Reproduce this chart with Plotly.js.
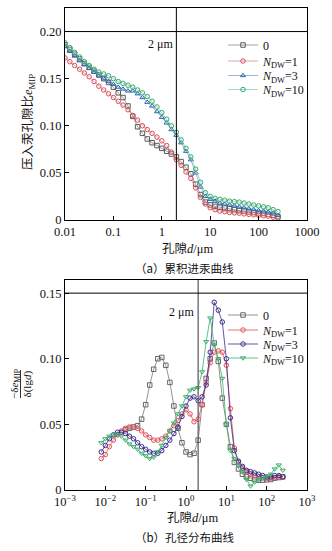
<!DOCTYPE html>
<html><head><meta charset="utf-8">
<script src="https://cdn.plot.ly/plotly-3.0.1.min.js"></script>
<style>html,body{margin:0;padding:0;background:#fff;}#c{width:332px;height:551px;}</style>
</head><body><div id="c"></div>
<script>
// ---- Chart (a): cumulative intrusion ----
const dA = [0.01,0.0126,0.0158,0.02,0.0251,0.0316,0.0398,0.0501,0.0631,0.0794,
  0.1,0.126,0.158,0.2,0.251,0.316,0.398,0.501,0.631,0.794,
  1,1.26,1.58,2,2.51,3.16,3.98,5.01,6.31,7.94,
  10,12.6,15.8,20,25.1,31.6,39.8,50.1,63.1,79.4,
  100,126,158,200,251];
const a0 = [0.186,0.181,0.176,0.171,0.166,0.162,0.158,0.154,0.150,0.146,
  0.141,0.135,0.130,0.121,0.110,0.099,0.092,0.086,0.082,0.079,
  0.076,0.073,0.070,0.067,0.062,0.056,0.049,0.038,0.027,0.019,
  0.016,0.0145,0.0135,0.0127,0.012,0.011,0.010,0.0095,0.0085,0.008,
  0.0075,0.007,0.006,0.005,0.0035];
const a1 = [0.172,0.168,0.164,0.160,0.156,0.152,0.147,0.142,0.138,0.134,
  0.130,0.126,0.122,0.117,0.111,0.106,0.100,0.096,0.092,0.088,
  0.084,0.079,0.072,0.064,0.058,0.051,0.044,0.034,0.024,0.017,
  0.013,0.011,0.0095,0.0088,0.008,0.0075,0.0072,0.0065,0.006,0.0055,
  0.005,0.0045,0.004,0.003,0.002];
const a3 = [0.184,0.179,0.174,0.169,0.165,0.161,0.157,0.153,0.150,0.147,
  0.144,0.141,0.139,0.137,0.137,0.134,0.130,0.125,0.121,0.115,
  0.109,0.103,0.096,0.090,0.082,0.073,0.064,0.050,0.035,0.025,
  0.022,0.020,0.018,0.017,0.016,0.015,0.014,0.013,0.012,0.011,
  0.010,0.0095,0.0085,0.0075,0.005];
const a10 = [0.188,0.183,0.178,0.173,0.168,0.164,0.160,0.157,0.155,0.153,
  0.150,0.147,0.145,0.143,0.141,0.138,0.135,0.131,0.126,0.120,
  0.114,0.107,0.100,0.093,0.085,0.076,0.067,0.054,0.040,0.029,
  0.025,0.023,0.022,0.021,0.020,0.0195,0.019,0.018,0.017,0.016,
  0.015,0.014,0.013,0.011,0.009];

// ---- Chart (b): pore size distribution ----
const dB = [0.00794,0.01,0.0126,0.0158,0.02,0.0251,0.0316,0.0398,0.0501,0.0631,
  0.0794,0.1,0.126,0.158,0.2,0.251,0.316,0.398,0.501,0.631,
  0.794,1,1.26,1.58,2,2.51,3.16,3.98,5.01,6.31,
  7.94,10,12.6,15.8,20,25.1,31.6,39.8,50.1,63.1,
  79.4,100,126,158,200,251];
const b0 = [null,null,null,null,null,null,0.046,0.047,0.048,0.049,
  0.054,0.065,0.080,0.092,0.100,0.101,0.095,0.082,0.064,0.047,
  0.036,0.029,0.027,0.028,0.038,0.065,0.085,0.100,0.112,0.098,
  0.070,0.050,0.033,0.021,0.016,0.012,0.010,0.009,0.008,0.0075,
  0.0075,0.0078,0.008,0.009,0.0095,0.010];
const b1 = [0.024,0.027,0.033,0.038,0.042,0.045,0.047,0.048,0.048,0.047,
  0.045,0.042,0.040,0.038,0.038,0.039,0.041,0.045,0.049,0.053,
  0.058,0.061,0.058,0.052,0.054,0.065,0.082,0.097,0.105,0.106,
  0.105,0.095,0.062,0.032,0.021,0.017,0.014,0.012,0.011,0.010,
  0.0095,0.009,0.009,0.0095,0.010,0.010];
const b3 = [0.029,0.034,0.039,0.042,0.044,0.044,0.043,0.041,0.039,0.036,
  0.033,0.031,0.029,0.028,0.028,0.030,0.034,0.038,0.043,0.048,
  0.056,0.064,0.070,0.071,0.068,0.071,0.080,0.105,0.143,0.137,
  0.128,0.100,0.055,0.030,0.022,0.018,0.015,0.014,0.013,0.012,
  0.011,0.010,0.010,0.011,0.011,0.010];
const b10 = [0.036,0.039,0.041,0.042,0.042,0.041,0.038,0.035,0.033,0.031,
  0.028,0.026,0.024,0.025,0.029,0.034,0.040,0.045,0.051,0.058,
  0.064,0.071,0.076,0.077,0.078,0.090,0.113,0.131,0.111,0.100,
  0.085,0.050,0.030,0.024,0.019,0.014,0.008,0.003,0.006,0.008,
  0.009,0.010,0.012,0.016,0.019,0.015];

const namesLeg = ['0','<i>N</i><sub>DW</sub>=1','<i>N</i><sub>DW</sub>=3','<i>N</i><sub>DW</sub>=10'];
const tickA = ['0.01','0.1','1','10','100','1000'];
const tickB = ['10<sup>−3</sup>','10<sup>−2</sup>','10<sup>−1</sup>','10<sup>0</sup>','10<sup>1</sup>','10<sup>2</sup>','10<sup>3</sup>'];

const W=332,H=551;
const px=x=>x/W, py=y=>1-y/H;
const serif='Liberation Serif, Times New Roman, serif';
const cjk='Noto Sans CJK SC, sans-serif';

function tr(x,y,name,color,lc,sym,xa,ya,leg){
  return {x:x,y:y,name:name,type:'scatter',mode:'lines+markers',xaxis:xa,yaxis:ya,legend:leg,
    line:{color:lc,width:0.8},marker:{symbol:sym,size:4.5,color:color,line:{color:color,width:1}},
    connectgaps:false,hoverinfo:'skip'};
}
const data=[
  tr(dA,a0,namesLeg[0],'#5a5a5a','#8a8a8a','square-open','x','y','legend'),
  tr(dA,a1,namesLeg[1],'#d4505e','#e08890','circle-open','x','y','legend2'),
  tr(dA,a3,namesLeg[2],'#2a68b0','#7fa6d6','triangle-up-open','x','y','legend3'),
  tr(dA,a10,namesLeg[3],'#35a872','#8ccfae','circle-open','x','y','legend4'),
  tr(dB,b0,namesLeg[0],'#666666','#777777','square-open','x2','y2','legend5'),
  tr(dB,b1,namesLeg[1],'#e0505c','#e0505c','circle-open','x2','y2','legend6'),
  tr(dB,b3,namesLeg[2],'#3a2c8e','#3a2c8e','circle-open','x2','y2','legend7'),
  tr(dB,b10,namesLeg[3],'#3cae6c','#3cae6c','triangle-down-open','x2','y2','legend8')
];

const axBase={showgrid:false,zeroline:false,showline:true,mirror:true,linecolor:'#000',linewidth:1,
  ticks:'inside',ticklen:4,tickcolor:'#000',tickfont:{family:serif,size:12.5,color:'#111'}};
function leg(y){
  return {x:px(223),y:py(y),xanchor:'left',yanchor:'middle',bgcolor:'rgba(0,0,0,0)',
    font:{family:serif,size:12,color:'#111'},tracegroupgap:0,itemwidth:30,borderwidth:0};
}
const layout={
  width:W,height:H,margin:{l:0,r:0,t:0,b:0},paper_bgcolor:'#fff',plot_bgcolor:'#fff',showlegend:true,
  xaxis:Object.assign({},axBase,{type:'log',range:[-2,3],domain:[px(65),px(307)],anchor:'y',
    tickvals:[0.01,0.1,1,10,100,1000],ticktext:tickA}),
  yaxis:Object.assign({},axBase,{range:[0,0.225],domain:[py(220),py(8)],anchor:'x',
    tickvals:[0,0.05,0.10,0.15,0.20],ticktext:['0','0.05','0.10','0.15','0.20']}),
  xaxis2:Object.assign({},axBase,{type:'log',range:[-3,3],domain:[px(65),px(307)],anchor:'y2',
    tickvals:[0.001,0.01,0.1,1,10,100,1000],ticktext:tickB}),
  yaxis2:Object.assign({},axBase,{range:[0,0.16],domain:[py(490),py(280)],anchor:'x2',
    tickvals:[0,0.05,0.10,0.15],ticktext:['0','0.05','0.10','0.15']}),
  legend:leg(45),legend2:leg(61),legend3:leg(75.5),legend4:leg(89.5),
  legend5:leg(315),legend6:leg(330),legend7:leg(344),legend8:leg(358),
  shapes:[
    {type:'line',xref:'x',yref:'y domain',x0:2,x1:2,y0:0,y1:1,line:{color:'#000',width:1}},
    {type:'line',xref:'x domain',yref:'y',x0:0,x1:1,y0:0.20,y1:0.20,line:{color:'#000',width:1}},
    {type:'line',xref:'x2',yref:'y2 domain',x0:2,x1:2,y0:0,y1:1,line:{color:'#555',width:1.2}},
    {type:'line',xref:'x2 domain',yref:'y2',x0:0,x1:1,y0:0.15,y1:0.15,line:{color:'#000',width:1}},
    {type:'line',xref:'paper',yref:'paper',x0:px(20.5),x1:px(20.5),y0:py(370),y1:py(398),line:{color:'#000',width:0.8}}
  ],
  annotations:[
    {xref:'paper',yref:'paper',x:px(175),y:py(44),xanchor:'right',yanchor:'middle',showarrow:false,
      text:'2 μm',font:{family:serif,size:12,color:'#111'}},
    {xref:'paper',yref:'paper',x:px(196),y:py(312),xanchor:'right',yanchor:'middle',showarrow:false,
      text:'2 μm',font:{family:serif,size:12,color:'#111'}},
    {xref:'paper',yref:'paper',x:px(187),y:py(247),xanchor:'center',yanchor:'middle',showarrow:false,
      text:'<span style="font-family:Noto Sans CJK SC">孔隙</span><i>d</i>/μm',font:{family:serif,size:12.5,color:'#111'}},
    {xref:'paper',yref:'paper',x:px(192),y:py(516),xanchor:'center',yanchor:'middle',showarrow:false,
      text:'<span style="font-family:Noto Sans CJK SC">孔隙</span><i>d</i>/μm',font:{family:serif,size:12.5,color:'#111'}},
    {xref:'paper',yref:'paper',x:px(27),y:py(122),xanchor:'center',yanchor:'middle',showarrow:false,textangle:-90,
      text:'<span style="font-family:Noto Sans CJK SC">压入汞孔隙比</span><i>e</i><sub>MIP</sub>',font:{family:serif,size:12.5,color:'#111'}},
    {xref:'paper',yref:'paper',x:px(15),y:py(384),xanchor:'center',yanchor:'middle',showarrow:false,textangle:-90,
      text:'−δ<i>e</i><sub>MIP</sub>',font:{family:serif,size:11,color:'#111'}},
    {xref:'paper',yref:'paper',x:px(26.5),y:py(384),xanchor:'center',yanchor:'middle',showarrow:false,textangle:-90,
      text:'δ(lg<i>d</i>)',font:{family:serif,size:11,color:'#111'}},
    {xref:'paper',yref:'paper',x:px(184),y:py(268),xanchor:'center',yanchor:'middle',showarrow:false,
      text:'（a）累积进汞曲线',font:{family:cjk,size:11.5,color:'#111'}},
    {xref:'paper',yref:'paper',x:px(185),y:py(537),xanchor:'center',yanchor:'middle',showarrow:false,
      text:'（b）孔径分布曲线',font:{family:cjk,size:11.5,color:'#111'}}
  ]
};
Plotly.newPlot('c',data,layout,{staticPlot:true,displayModeBar:false});
</script></body></html>
